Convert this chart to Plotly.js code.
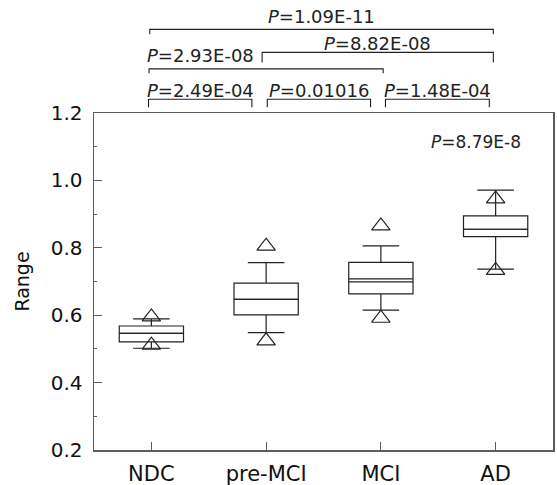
<!DOCTYPE html>
<html>
<head>
<meta charset="utf-8">
<script src="https://cdn.plot.ly/plotly-3.0.1.min.js"></script>
<style>
html,body{margin:0;padding:0;background:#fff;}
#chart{width:557px;height:485px;}
path.mean{stroke-dasharray:none !important;}
</style>
</head>
<body>
<div id="chart"></div>
<script>
// ---- data ----
var categories = ['NDC', 'pre-MCI', 'MCI', 'AD'];
var q1Values     = [0.521, 0.601, 0.663, 0.833];
var medianValues = [0.546, 0.647, 0.708, 0.855];
var q3Values     = [0.568, 0.695, 0.757, 0.895];
var meanValues   = [0.546, 0.647, 0.699, 0.855];
var lowerWhisker = [0.502, 0.548, 0.615, 0.737];
var upperWhisker = [0.589, 0.756, 0.806, 0.971];
var upperMarker  = [0.595, 0.805, 0.865, 0.945];
var lowerMarker  = [0.511, 0.524, 0.591, 0.733];
var yTickValues  = [0.2, 0.4, 0.6, 0.8, 1.0, 1.2];
var yTickLabels  = ['0.2', '0.4', '0.6', '0.8', '1.0', '1.2'];

// pairwise comparisons (group indices) and their p-value labels
var compFrom   = [0, 1, 2, 0, 1, 0];
var compTo     = [1, 2, 3, 2, 3, 3];
var compLabels = ['2.49E-04', '0.01016', '1.48E-04', '2.93E-08', '8.82E-08', '1.09E-11'];
var overallLabel = '8.79E-8';

// ---- layout helpers ----
var FONT = 'DejaVu Sans, Liberation Sans, Arial, sans-serif';
var INK = '#222';
var FRAME = '#5c5c5c';
var xRange = [-0.5, categories.length - 0.5];
function catToPaper(c) { return (c - xRange[0]) / (xRange[1] - xRange[0]); }

// bracket geometry per comparison
var bracketStyle = [
  {s: -0.025, e: -0.124, yl: 1.041, yt: 1.017, ty: 1.066},
  {s: 0.01,  e: -0.09,  yl: 1.041, yt: 1.017, ty: 1.066},
  {s: 0.04,  e: -0.055, yl: 1.041, yt: 1.017, ty: 1.066},
  {s: -0.02, e: 0.02,   yl: 1.131, yt: 1.118, ty: 1.170, tx: 0.425},
  {s: -0.035, e: -0.02, yl: 1.180, yt: 1.150, ty: 1.207},
  {s: -0.014, e: -0.02, yl: 1.248, yt: 1.234, ty: 1.286}
];

var shapes = [];
var annotations = [];
for (var k = 0; k < compFrom.length; k++) {
  var b = bracketStyle[k];
  var c0 = compFrom[k] + b.s, c1 = compTo[k] + b.e;
  var x0 = catToPaper(c0), x1 = catToPaper(c1);
  shapes.push({
    type: 'path', xref: 'paper', yref: 'paper',
    path: 'M' + x0 + ',' + b.yt + ' L' + x0 + ',' + b.yl + ' L' + x1 + ',' + b.yl + ' L' + x1 + ',' + b.yt,
    line: {color: INK, width: 1.1}
  });
  var tx = (b.tx !== undefined) ? b.tx : (c0 + c1) / 2;
  annotations.push({
    xref: 'paper', yref: 'paper', x: catToPaper(tx), y: b.ty,
    text: '<i>P</i>=' + compLabels[k], showarrow: false,
    xanchor: 'center', yanchor: 'middle',
    font: {family: FONT, size: 18, color: INK}
  });
}
annotations.push({
  xref: 'x', yref: 'y', x: 2.825, y: 1.113,
  text: '<i>P</i>=' + overallLabel, showarrow: false,
  xanchor: 'center', yanchor: 'middle',
  font: {family: FONT, size: 17, color: INK}
});

var boxTrace = {
  type: 'box',
  x: categories,
  q1: q1Values,
  median: medianValues,
  q3: q3Values,
  mean: meanValues,
  lowerfence: lowerWhisker,
  upperfence: upperWhisker,
  boxmean: true,
  boxpoints: false,
  whiskerwidth: 0.57,
  fillcolor: '#ffffff',
  line: {color: INK, width: 1.2},
  hoverinfo: 'skip',
  showlegend: false
};

var markerStyle = {symbol: 'triangle-up-open', size: 16, color: INK, line: {color: INK, width: 1.2}};
var upperTrace = {type: 'scatter', mode: 'markers', x: categories, y: upperMarker,
  marker: markerStyle, hoverinfo: 'skip', showlegend: false, cliponaxis: false};
var lowerTrace = {type: 'scatter', mode: 'markers', x: categories, y: lowerMarker,
  marker: markerStyle, hoverinfo: 'skip', showlegend: false, cliponaxis: false};

var layout = {
  width: 557, height: 485,
  margin: {l: 94, r: 2, t: 113, b: 35},
  paper_bgcolor: '#ffffff', plot_bgcolor: '#ffffff',
  boxgap: 0.2,
  font: {family: FONT, color: '#111'},
  xaxis: {
    type: 'category', range: xRange,
    showgrid: false, zeroline: false,
    showline: true, linecolor: FRAME, linewidth: 1.5, mirror: true,
    ticks: 'inside', ticklen: 8, tickcolor: FRAME, tickwidth: 1.2,
    tickfont: {family: FONT, size: 21, color: '#111'},
    ticklabelstandoff: 4
  },
  yaxis: {
    range: [0.2, 1.2],
    tickvals: yTickValues, ticktext: yTickLabels,
    showgrid: false, zeroline: false,
    showline: true, linecolor: FRAME, linewidth: 1.5, mirror: true,
    ticks: 'inside', ticklen: 8, tickcolor: FRAME, tickwidth: 1.2,
    minor: {dtick: 0.1, tick0: 0.2, ticks: 'inside', ticklen: 3, tickcolor: FRAME, tickwidth: 1, showgrid: false},
    tickfont: {family: FONT, size: 20, color: '#111'},
    ticklabelstandoff: 6,
    automargin: true,
    title: {text: 'Range', standoff: 16, font: {family: FONT, size: 19, color: '#111'}}
  },
  shapes: shapes,
  annotations: annotations
};

Plotly.newPlot('chart', [boxTrace, upperTrace, lowerTrace], layout, {displayModeBar: false, staticPlot: true});
</script>
</body>
</html>
